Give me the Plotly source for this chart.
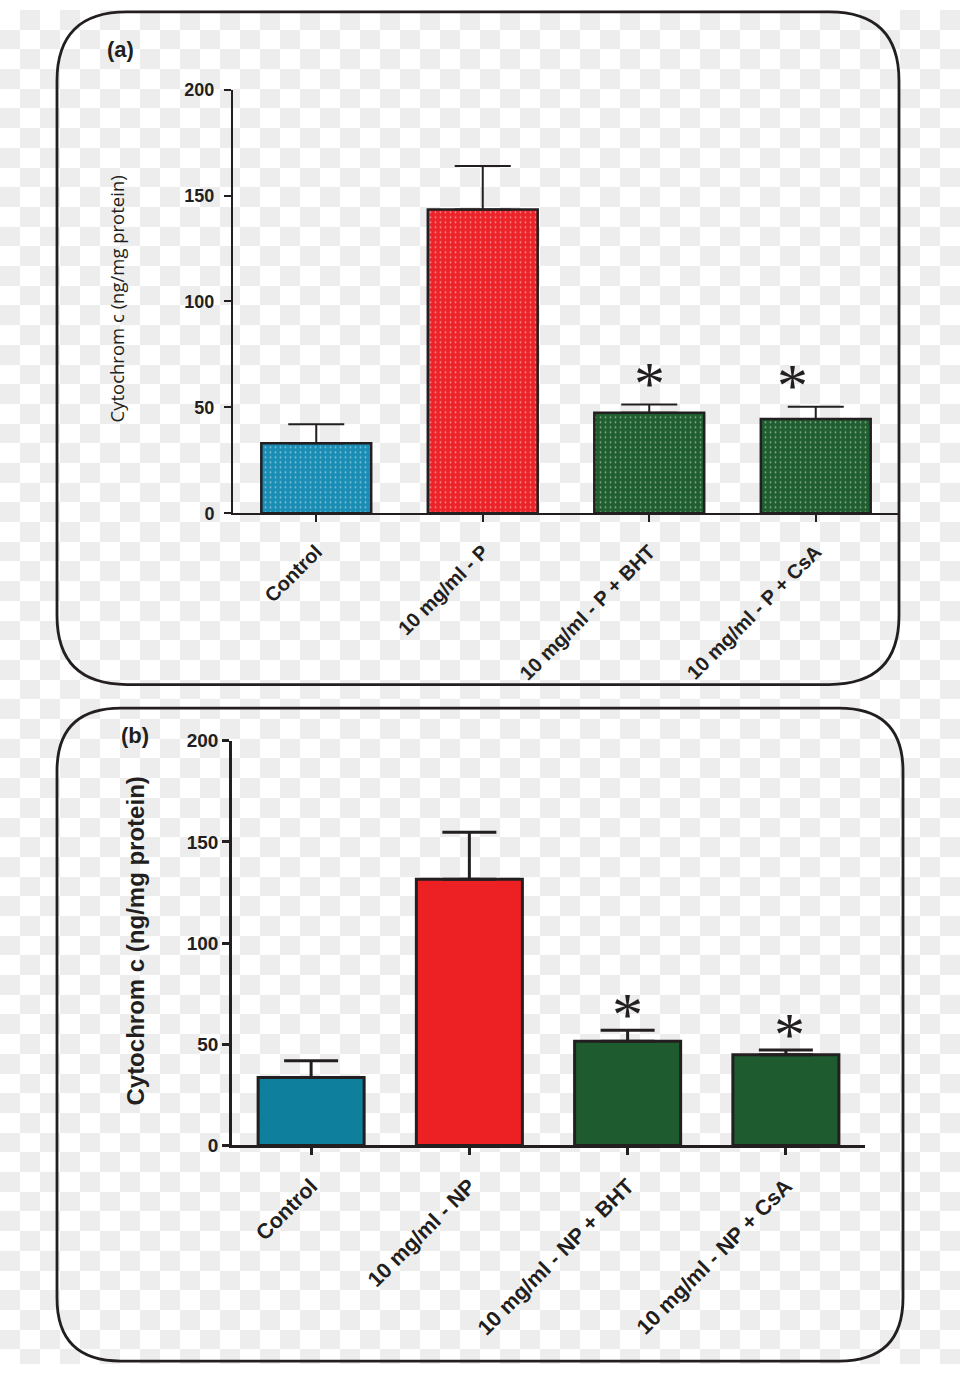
import plotly.graph_objects as go

# ---------------- data ----------------
cats_a = ["Control", "10 mg/ml - P", "10 mg/ml - P + BHT", "10 mg/ml - P + CsA"]
vals_a = [33, 143.5, 47.5, 44.5]
err_a = [9, 20.5, 3.8, 5.8]
sig_a = ["", "", "*", "*"]

cats_b = ["Control", "10 mg/ml - NP", "10 mg/ml - NP + BHT", "10 mg/ml - NP + CsA"]
vals_b = [33.5, 131.5, 51.5, 44.8]
err_b = [8.3, 23.2, 5.4, 2.4]
sig_b = ["", "", "*", "*"]

y_ticks = [0, 50, 100, 150, 200]
y_title = "Cytochrom c (ng/mg protein)"

colors_a = ["#1a8db5", "#ec2328", "#1f5e2e", "#1f5e2e"]
colors_b = ["#0e7f9d", "#ed2024", "#1e5b2e", "#1e5b2e"]

W, H = 960, 1375
INK = "#231f20"
FONT = "Liberation Sans, Arial, sans-serif"

fig = go.Figure()

# ---- background checkerboard (transparency look of the source) ----
ncol, nrow = W // 20, H // 20 + 1
z = [[(i + j) % 2 for i in range(ncol)] for j in range(nrow)]
fig.add_trace(go.Heatmap(z=z, x0=10, dx=20, y0=10, dy=20,
                         colorscale=[[0, "#ffffff"], [1, "#ededed"]],
                         showscale=False, hoverinfo="skip",
                         xaxis="x", yaxis="y", zmin=0, zmax=1))

# ---- panel (a) bars ----
fig.add_trace(go.Bar(
    x=cats_a, y=vals_a, width=0.66, xaxis="x2", yaxis="y2",
    marker=dict(color=colors_a, line=dict(color=INK, width=2.5),
                pattern=dict(shape=".", size=5, solidity=0.1,
                             fgcolor="#1a1a1a", fillmode="overlay")),
    error_y=dict(type="data", array=err_a, arrayminus=[0] * 4, symmetric=False,
                 color=INK, thickness=2, width=28),
    showlegend=False, hoverinfo="skip"))

# ---- panel (b) bars ----
fig.add_trace(go.Bar(
    x=cats_b, y=vals_b, width=0.67, xaxis="x3", yaxis="y3",
    marker=dict(color=colors_b, line=dict(color=INK, width=3)),
    error_y=dict(type="data", array=err_b, arrayminus=[0] * 4, symmetric=False,
                 color=INK, thickness=3, width=27),
    showlegend=False, hoverinfo="skip"))

axis_common = dict(showgrid=False, zeroline=False, showline=True, linecolor=INK,
                   ticks="outside", tickcolor=INK, fixedrange=True)

fig.update_layout(
    width=W, height=H, margin=dict(l=0, r=0, t=0, b=0, pad=0),
    paper_bgcolor="white", plot_bgcolor="rgba(0,0,0,0)",
    xaxis=dict(range=[0, W], domain=[0, 1], visible=False, fixedrange=True),
    yaxis=dict(range=[H, 0], domain=[0, 1], visible=False, fixedrange=True),
    xaxis2=dict(**axis_common, domain=[233 / W, 899 / W], anchor="y2",
                linewidth=2, tickwidth=2, ticklen=7, tickangle=-45,
                ticklabelstandoff=10,
                tickfont=dict(family=FONT, size=20, color=INK, weight="bold")),
    yaxis2=dict(**axis_common, domain=[1 - 511 / H, 1 - 81 / H], anchor="x2",
                range=[0, 200], tickvals=y_ticks, linewidth=2, tickwidth=2,
                ticklen=7, ticklabelstandoff=6,
                tickfont=dict(family=FONT, size=18, color=INK, weight="bold")),
    xaxis3=dict(**axis_common, domain=[232 / W, 865 / W], anchor="y3",
                linewidth=2.5, tickwidth=2.5, ticklen=7, tickangle=-45,
                ticklabelstandoff=10,
                tickfont=dict(family=FONT, size=21.5, color=INK, weight="bold")),
    yaxis3=dict(**axis_common, domain=[1 - 1153 / H, 1 - 742 / H], anchor="x3",
                range=[0, 200], tickvals=y_ticks, linewidth=2.5, tickwidth=2.5,
                ticklen=7, ticklabelstandoff=0,
                tickfont=dict(family=FONT, size=19, color=INK, weight="bold")),
)


def rounded_rect(x0, y0, x1, y1, r):
    return (f"M {x0 + r},{y0} L {x1 - r},{y0} Q {x1},{y0} {x1},{y0 + r} "
            f"L {x1},{y1 - r} Q {x1},{y1} {x1 - r},{y1} L {x0 + r},{y1} "
            f"Q {x0},{y1} {x0},{y1 - r} L {x0},{y0 + r} Q {x0},{y0} {x0 + r},{y0} Z")


fig.add_shape(type="path", path=rounded_rect(57, 2, 899, 685, 70),
              xref="x", yref="y", line=dict(color=INK, width=2.8), layer="above")
fig.add_shape(type="path", path=rounded_rect(57, 709, 903, 1372, 64),
              xref="x", yref="y", line=dict(color=INK, width=2.8), layer="above")

# panel letters
fig.add_annotation(text="(a)", x=120, y=40, xref="x", yref="y", showarrow=False,
                   font=dict(family=FONT, size=22, color=INK, weight="bold"))
fig.add_annotation(text="(b)", x=135, y=737, xref="x", yref="y", showarrow=False,
                   font=dict(family=FONT, size=22, color=INK, weight="bold"))

# y titles
fig.add_annotation(text=y_title, x=117, y=294, xref="x", yref="y", showarrow=False,
                   textangle=-90, font=dict(family="Open Sans, sans-serif", size=18.5, color=INK))
fig.add_annotation(text=y_title, x=136, y=946, xref="x", yref="y",
                   showarrow=False, textangle=-90,
                   font=dict(family=FONT, size=24, color=INK, weight="bold"))

# significance stars
shift_a = [0, 0, 0, -23]
shift_b = [0, 0, 0, 4]
for i in range(4):
    if sig_a[i]:
        fig.add_annotation(text=sig_a[i], x=cats_a[i], y=vals_a[i] + err_a[i],
                           xref="x2", yref="y2", showarrow=False, xshift=shift_a[i],
                           yshift=22, yanchor="middle",
                           font=dict(family="Liberation Serif, serif", size=62, color=INK))
    if sig_b[i]:
        fig.add_annotation(text=sig_b[i], x=cats_b[i], y=vals_b[i] + err_b[i],
                           xref="x3", yref="y3", showarrow=False, xshift=shift_b[i],
                           yshift=16, yanchor="middle",
                           font=dict(family="Liberation Serif, serif", size=62, color=INK))

css_fix = ("var s=document.createElement('style');"
           "s.innerHTML='html,body{margin:0 !important;padding:0 !important;overflow:hidden;}"
           " .plotly-graph-div{display:block;}';"
           "document.head.appendChild(s);")
fig.write_html("out.html", config={"displayModeBar": False}, post_script=css_fix)
